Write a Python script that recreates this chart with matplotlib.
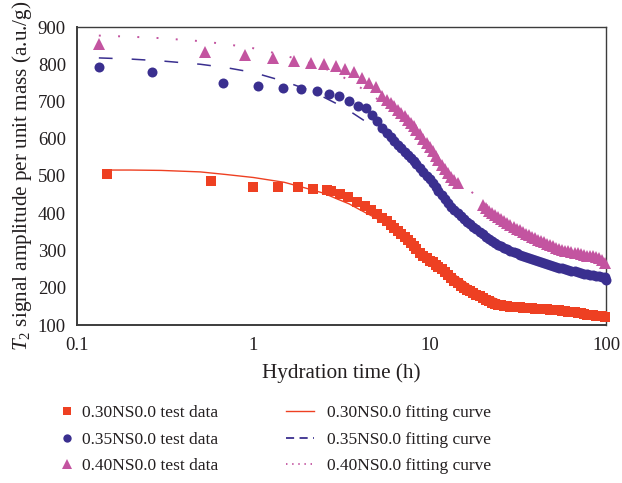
import numpy as np
import matplotlib
matplotlib.use("Agg")
import matplotlib.pyplot as plt
from matplotlib.lines import Line2D

plt.rcParams["font.family"] = ["Liberation Serif", "DejaVu Serif"]
plt.rcParams["mathtext.fontset"] = "custom"
plt.rcParams["mathtext.rm"] = "Liberation Serif"
plt.rcParams["mathtext.it"] = "Liberation Serif:italic"

# ---- measured signal (sparse early readings + dense record) ----
t_dense = [5.4, 5.7, 6.0, 6.3, 6.6, 6.9, 7.2, 7.5, 7.8, 8.1, 8.4, 8.8, 9.2, 9.6,
           10.0, 10.4, 10.8, 11.2, 11.7, 12.2, 12.7, 13.2, 13.8, 14.4, 15.0,
           15.6, 16.3, 17.0, 17.7, 18.4, 19.2, 20.0, 20.8, 21.7, 22.6, 23.5,
           24.5, 25.5, 26.5, 27.6, 28.7, 29.9, 31.1, 32.4, 33.7, 35.1, 36.5,
           38.0, 39.5, 41.1, 42.8, 44.5, 46.3, 48.2, 50.2, 52.2, 54.3, 56.5,
           58.8, 61.2, 63.7, 66.3, 69.0, 71.8, 74.7, 77.7, 80.9, 84.2, 87.6,
           91.2, 94.9, 98.8]

t30_early = [0.148, 0.577, 1.00, 1.38, 1.79, 2.18, 2.60, 2.77, 3.12, 3.43, 3.88,
             4.30, 4.67, 5.05]
v30_early = [505, 487, 471, 470, 470, 466, 462, 460, 452, 443, 431, 420, 409, 397]
v30_dense = [388, 378, 369, 361, 353, 344, 336, 327, 319, 311, 303, 294, 286, 279,
             273, 268, 262, 256, 249, 241, 233, 226, 219, 212, 206,
             200, 195, 190, 185, 181, 177, 172, 168, 164, 160, 157,
             155, 153, 151, 150, 149, 148, 147, 147, 146, 146, 145,
             145, 144, 144, 143, 143, 142, 141, 140, 139, 139, 138,
             137, 136, 135, 134, 132, 131, 129, 128, 127, 126, 125,
             124, 123, 122]

t35_early = [0.133, 0.267, 0.67, 1.06, 1.47, 1.87, 2.30, 2.68, 3.08, 3.48, 3.92,
             4.33, 4.72, 5.05]
v35_early = [793, 778, 751, 742, 737, 734, 729, 720, 715, 702, 689, 682, 664, 648]
v35_dense = [630, 615, 604, 594, 584, 574, 565, 556, 547, 539, 531, 521, 511, 501,
             491, 481, 471, 460, 448, 437, 427, 418, 409, 400, 392,
             385, 377, 370, 364, 357, 350, 343, 337, 331, 326, 321,
             316, 312, 308, 304, 300, 296, 292, 289, 286, 283, 280,
             277, 274, 271, 268, 266, 263, 261, 258, 256, 254, 252,
             250, 248, 246, 244, 242, 240, 238, 236, 235, 233, 232,
             231, 230, 228]
t35_last = [100.0]
v35_last = [221]

t40_early = [0.133, 0.53, 0.90, 1.30, 1.71, 2.11, 2.51, 2.93, 3.29, 3.72, 4.15,
             4.52, 4.93]
v40_early = [854, 832, 824, 816, 810, 804, 802, 796, 787, 778, 764, 751, 738]
nan = np.nan
v40_dense = [714, 705, 696, 687, 678, 669, 660, 651, 642, 633, 624, 612, 600, 589,
             577, 566, 555, 543, 530, 518, 507, 497, 489, 482, nan,
             nan, nan, nan, nan, nan, nan, 421, 414, 407, 400, 395,
             389, 384, 379, 374, 369, 364, 359, 354, 349, 345, 341,
             337, 333, 329, 325, 322, 318, 314, 311, 308, 305, 302,
             300, 298, 296, 294, 292, 290, 288, 286, 285, 284, 283,
             281, 274, 266]

# ---- fitted curves ----
t_fit = [0.133, 0.2, 0.3, 0.5, 0.7, 1.0, 1.5, 2.0, 2.5, 3.0, 3.5, 4.0, 5.0, 6.0,
         7.0, 8.0, 9.0, 10.0, 12.0, 14.0, 17.0, 20.0, 25.0, 30.0, 40.0, 50.0,
         60.0, 70.0, 80.0, 90.0, 100.0]
f30 = [516, 516, 515, 511, 504, 496, 483, 467, 454, 438, 425, 410, 386, 362,
       340, 318, 300, 284, 257, 233, 205, 185, 166, 156, 146, 140,
       136, 133, 130, 127, 125]
f35 = [817, 814, 809, 800, 791, 778, 754, 733, 712, 693, 675, 657, 627, 603,
       575, 545, 518, 493, 452, 412, 370, 342, 315, 296, 272, 256,
       245, 238, 233, 229, 226]
f40 = [877, 874, 870, 862, 854, 843, 824, 806, 790, 774, 756, 739, 708, 681,
       655, 630, 606, 582, 528, 495, 460, 432, 390, 362, 329, 310,
       298, 290, 284, 279, 275]

labels_data = ["0.30NS0.0 test data", "0.35NS0.0 test data", "0.40NS0.0 test data"]
labels_fit = ["0.30NS0.0 fitting curve", "0.35NS0.0 fitting curve",
              "0.40NS0.0 fitting curve"]

c_red = "#EE4022"
c_blue = "#3A2F8F"
c_pink = "#C354A0"
c_text = "#231F20"

fig = plt.figure(figsize=(6.22, 4.83), dpi=100)
ax = fig.add_axes([77 / 622, 1 - 325 / 483, (606 - 77) / 622, (325 - 27) / 483])

# fitted curves
t_fit30 = [0.15] + t_fit[1:]
ax.plot(t_fit30, f30, color=c_red, lw=1.0, zorder=2)
ax.plot(t_fit, f35, color=c_blue, lw=1.1, zorder=2,
        linestyle=(0, (9.0, 12.5)), dash_capstyle="butt")
ax.plot(t_fit, f40, color=c_pink, lw=1.4, zorder=2,
        linestyle=(0, (1.0, 8.9)), dash_capstyle="butt")

# test data
ax.plot(t30_early + t_dense, v30_early + v30_dense, linestyle="none", marker="s",
        ms=7.0, mew=0, color=c_red, zorder=3, clip_on=False)
ax.plot(t35_early + t_dense + t35_last, v35_early + v35_dense + v35_last,
        linestyle="none", marker="o", ms=7.2, mew=0, color=c_blue, zorder=3,
        clip_on=False)
ax.plot(t40_early + t_dense, v40_early + v40_dense, linestyle="none", marker="^",
        ms=8.6, mew=0, color=c_pink, zorder=3, clip_on=False)

ax.set_xscale("log")
ax.set_xlim(0.1, 100)
ax.set_ylim(100, 900)
ax.set_xticks([0.1, 1, 10, 100])
ax.set_xticklabels(["0.1", "1", "10", "100"])
ax.xaxis.set_minor_locator(matplotlib.ticker.NullLocator())
ax.set_yticks(np.arange(100, 901, 100))
ax.tick_params(length=0, labelsize=13.5, colors=c_text)
ax.tick_params(axis="x", pad=9)
ax.tick_params(axis="y", pad=8)

for side in ["top", "right"]:
    ax.spines[side].set_linewidth(1.0)
    ax.spines[side].set_color("#3C3C3C")
for side in ["left", "bottom"]:
    ax.spines[side].set_linewidth(1.4)
    ax.spines[side].set_color("#3C3C3C")

ax.set_xlabel("Hydration time (h)", fontsize=15.2, labelpad=6, color=c_text)
ax.set_ylabel("$T_2$ signal amplitude per unit mass (a.u./g)", fontsize=15.2,
              labelpad=3, color=c_text)

# legend: markers in the left column, fitting curves in the right column
h_data = [Line2D([], [], linestyle="none", marker="s", ms=5.5, mew=0, color=c_red),
          Line2D([], [], linestyle="none", marker="o", ms=6.0, mew=0, color=c_blue),
          Line2D([], [], linestyle="none", marker="^", ms=6.5, mew=0, color=c_pink)]
h_fit = [Line2D([], [], color=c_red, lw=1.0),
         Line2D([], [], color=c_blue, lw=1.3, linestyle=(0, (4.5, 3.0))),
         Line2D([], [], color=c_pink, lw=1.3, linestyle=(0, (0.8, 2.6)))]

leg_kw = dict(loc="upper left", frameon=False, fontsize=12.5,
              labelspacing=0.6, borderpad=0, borderaxespad=0)
leg1 = fig.legend(h_data, labels_data, bbox_to_anchor=(60 / 622, 1 - 405 / 483),
                  handlelength=0.8, handletextpad=0.45, **leg_kw)
leg2 = fig.legend(h_fit, labels_fit, bbox_to_anchor=(286 / 622, 1 - 405 / 483),
                  handlelength=1.6, handletextpad=0.75, **leg_kw)
for leg in (leg1, leg2):
    for txt in leg.get_texts():
        txt.set_color(c_text)

fig.savefig("out.png", dpi=100)
